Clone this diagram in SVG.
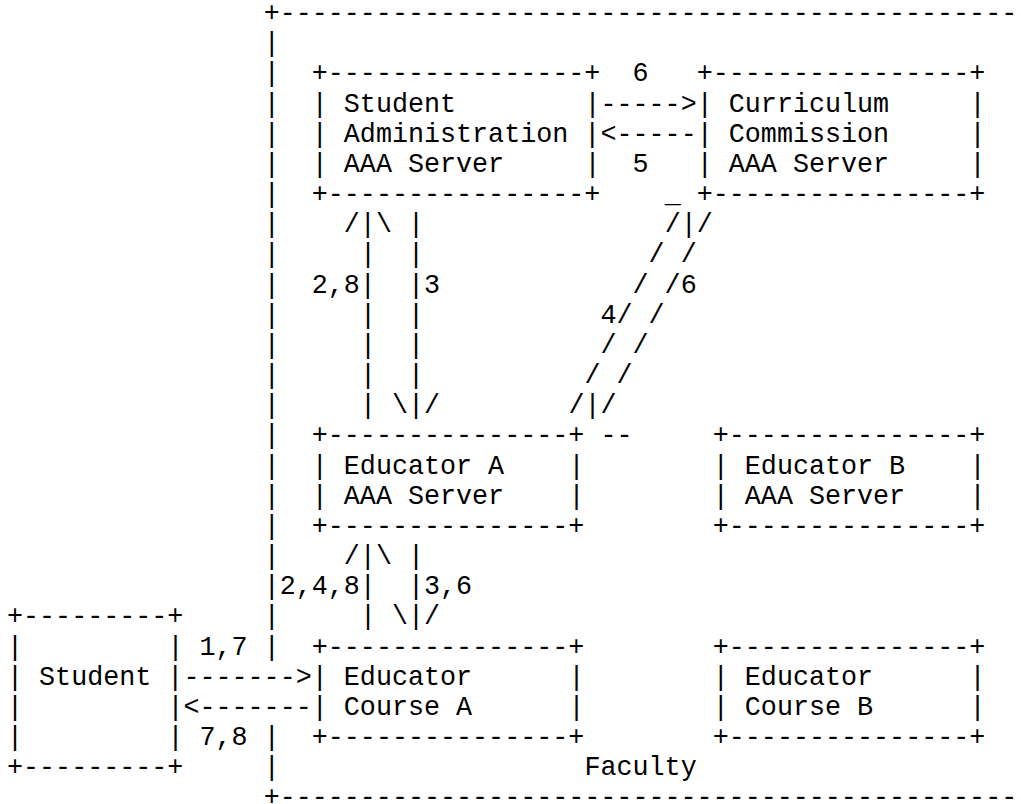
<svg xmlns="http://www.w3.org/2000/svg" width="1021" height="804" viewBox="0 0 1021 804">
<style>
.t{font-family:"Liberation Mono","Courier New",monospace;font-size:26.73px;fill:#000}
</style>
<rect width="1021" height="804" fill="#fff"/>
<g id="faculty-frame" class="t">
<text x="263.64" y="21">+----------------------------------------------</text>
<text x="263.64" y="51.17">|</text>
<text x="263.64" y="81.34">|</text>
<text x="263.64" y="111.51">|</text>
<text x="263.64" y="141.68">|</text>
<text x="263.64" y="171.85">|</text>
<text x="263.64" y="202.02">|</text>
<text x="263.64" y="232.19">|</text>
<text x="263.64" y="262.36">|</text>
<text x="263.64" y="292.53">|</text>
<text x="263.64" y="322.7">|</text>
<text x="263.64" y="352.87">|</text>
<text x="263.64" y="383.04">|</text>
<text x="263.64" y="413.21">|</text>
<text x="263.64" y="443.38">|</text>
<text x="263.64" y="473.55">|</text>
<text x="263.64" y="503.72">|</text>
<text x="263.64" y="533.89">|</text>
<text x="263.64" y="564.06">|</text>
<text x="263.64" y="594.23">|</text>
<text x="263.64" y="624.4">|</text>
<text x="263.64" y="654.57">|</text>
<text x="263.64" y="745.08">|</text>
<text x="263.64" y="775.25">|</text>
<text x="263.64" y="805.42">+----------------------------------------------</text>
<text x="584.44" y="775.25">Faculty</text>
</g>
<g id="student-admin" class="t">
<text x="311.76" y="81.34">+----------------+</text>
<text x="311.76" y="111.51">| Student</text>
<text x="311.76" y="141.68">| Administration |</text>
<text x="311.76" y="171.85">| AAA Server</text>
<text x="311.76" y="202.02">+----------------+</text>
<text x="584.44" y="111.51">|</text>
<text x="584.44" y="171.85">|</text>
</g>
<g id="curriculum-commission" class="t">
<text x="696.72" y="81.34">+----------------+</text>
<text x="696.72" y="111.51">| Curriculum</text>
<text x="696.72" y="141.68">| Commission</text>
<text x="696.72" y="171.85">| AAA Server</text>
<text x="696.72" y="202.02">+----------------+</text>
<text x="969.4" y="111.51">|</text>
<text x="969.4" y="141.68">|</text>
<text x="969.4" y="171.85">|</text>
</g>
<g id="educator-a" class="t">
<text x="311.76" y="443.38">+---------------+</text>
<text x="311.76" y="473.55">| Educator A</text>
<text x="311.76" y="503.72">| AAA Server</text>
<text x="311.76" y="533.89">+---------------+</text>
<text x="568.4" y="473.55">|</text>
<text x="568.4" y="503.72">|</text>
</g>
<g id="educator-b" class="t">
<text x="712.76" y="443.38">+---------------+</text>
<text x="712.76" y="473.55">| Educator B</text>
<text x="712.76" y="503.72">| AAA Server</text>
<text x="712.76" y="533.89">+---------------+</text>
<text x="969.4" y="473.55">|</text>
<text x="969.4" y="503.72">|</text>
</g>
<g id="course-a" class="t">
<text x="311.76" y="654.57">+---------------+</text>
<text x="311.76" y="684.74">| Educator</text>
<text x="311.76" y="714.91">| Course A</text>
<text x="311.76" y="745.08">+---------------+</text>
<text x="568.4" y="684.74">|</text>
<text x="568.4" y="714.91">|</text>
</g>
<g id="course-b" class="t">
<text x="712.76" y="654.57">+---------------+</text>
<text x="712.76" y="684.74">| Educator</text>
<text x="712.76" y="714.91">| Course B</text>
<text x="712.76" y="745.08">+---------------+</text>
<text x="969.4" y="684.74">|</text>
<text x="969.4" y="714.91">|</text>
</g>
<g id="student" class="t">
<text x="7" y="624.4">+---------+</text>
<text x="7" y="654.57">|</text>
<text x="167.4" y="654.57">|</text>
<text x="7" y="684.74">| Student |</text>
<text x="7" y="714.91">|</text>
<text x="167.4" y="714.91">|</text>
<text x="7" y="745.08">|</text>
<text x="167.4" y="745.08">|</text>
<text x="7" y="775.25">+---------+</text>
</g>
<g id="connectors" class="t">
<text x="632.56" y="81.34">6</text>
<text x="600.48" y="111.51">-----&gt;</text>
<text x="600.48" y="141.68">&lt;-----</text>
<text x="632.56" y="171.85">5</text>
<text x="664.64" y="202.02">_</text>
<text x="343.84" y="232.19">/|\ |</text>
<text x="664.64" y="232.19">/|/</text>
<text x="359.88" y="262.36">|</text>
<text x="408" y="262.36">|</text>
<text x="648.6" y="262.36">/ /</text>
<text x="311.76" y="292.53">2,8|</text>
<text x="408" y="292.53">|3</text>
<text x="632.56" y="292.53">/ /6</text>
<text x="359.88" y="322.7">|</text>
<text x="408" y="322.7">|</text>
<text x="600.48" y="322.7">4/ /</text>
<text x="359.88" y="352.87">|</text>
<text x="408" y="352.87">|</text>
<text x="600.48" y="352.87">/ /</text>
<text x="359.88" y="383.04">|</text>
<text x="408" y="383.04">|</text>
<text x="584.44" y="383.04">/ /</text>
<text x="359.88" y="413.21">| \|/</text>
<text x="568.4" y="413.21">/|/</text>
<text x="600.48" y="443.38">--</text>
<text x="343.84" y="564.06">/|\ |</text>
<text x="279.68" y="594.23">2,4,8|</text>
<text x="408" y="594.23">|3,6</text>
<text x="359.88" y="624.4">| \|/</text>
<text x="199.48" y="654.57">1,7</text>
<text x="183.44" y="684.74">-------&gt;</text>
<text x="183.44" y="714.91">&lt;-------</text>
<text x="199.48" y="745.08">7,8</text>
</g>
</svg>
